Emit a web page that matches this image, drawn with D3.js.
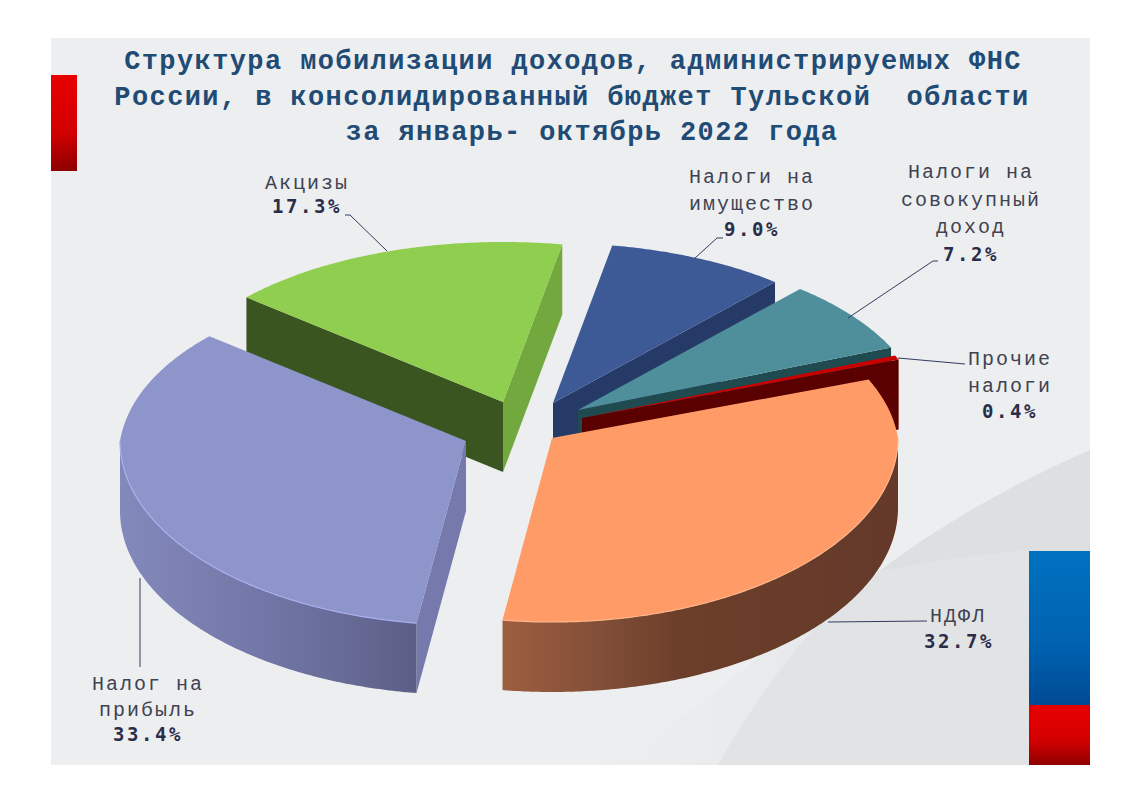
<!DOCTYPE html>
<html>
<head>
<meta charset="utf-8">
<script src="https://cdn.jsdelivr.net/npm/d3@7"></script>
<style>
  html, body { margin: 0; padding: 0; background: #fff; }
  svg { display: block; }
</style>
</head>
<body>
<svg width="1122" height="793"></svg>
<script>
// values
const categories = ["НДФЛ", "Налог на прибыль", "Акцизы", "Налоги на имущество", "Налоги на совокупный доход", "Прочие налоги"];
const shares = [32.7, 33.4, 17.3, 9.0, 7.2, 0.4];
const labelLines = [["НДФЛ"], ["Налог на", "прибыль"], ["Акцизы"], ["Налоги на", "имущество"], ["Налоги на", "совокупный", "доход"], ["Прочие", "налоги"]];
const titleLines = [
  "Структура мобилизации доходов, администрируемых ФНС",
  "России, в консолидированный бюджет Тульской\u00a0\u00a0области",
  "за январь- октябрь 2022 года"
];
const titleX = [573, 572, 592];

// layout of the exploded pie, centre of every slice on screen
const sliceX = [552, 466, 503, 553, 578, 582];
const sliceY = [438, 441, 402, 403, 410, 418];
const topColor = ["#FF9B66", "#8E95CB", "#8FCE4E", "#3D5A96", "#4F8F9B", "#C80000"];
const wallColor = ["#67392A", "#7579AC", "#3A5520", "#263A68", "#1F4A50", "#5A0000"];
const endWallColor = ["#67392A", "#7579AC", "#72A83E", "#263A68", "#1F4A50", "#5A0000"];
const paintOrder = [3, 4, 5, 0, 2, 1];
const rx = 346, ry = 184, depth = 70;
const perspX = 0.09, perspY = 0.15;
const firstAngle = 70.5 * Math.PI / 180;

// label anchors: centre x, baseline of the first line, line step, percent baseline
const labelX = [958, 148, 307, 752, 971, 1010];
const labelY = [622, 690, 189, 183, 178, 365];
const lineStep = [0, 26, 0, 27, 27.5, 27];
const pctY = [648, 741, 213, 236, 261, 418];
const pctX = [959, 148, 307, 752, 971, 1010];
const leaders = [
  [[828, 622], [927, 621]],
  [[140, 578], [140, 667]],
  [[387, 251], [350, 215], [345, 215]],
  [[695, 258], [717, 238], [723, 238]],
  [[848, 318], [933, 261], [938, 261]],
  [[898, 358], [965, 364]]
];

const svg = d3.select("svg");
const defs = svg.append("defs");

function vGrad(id, stops) {
  const g = defs.append("linearGradient").attr("id", id)
    .attr("x1", 0).attr("y1", 0).attr("x2", 0).attr("y2", 1);
  stops.forEach(s => g.append("stop").attr("offset", s[0]).attr("stop-color", s[1]));
}
function hGrad(id, x1, x2, stops) {
  const g = defs.append("linearGradient").attr("id", id)
    .attr("gradientUnits", "userSpaceOnUse")
    .attr("x1", x1).attr("y1", 0).attr("x2", x2).attr("y2", 0);
  stops.forEach(s => g.append("stop").attr("offset", s[0]).attr("stop-color", s[1]));
}
vGrad("redBar", [[0, "#E80000"], [0.6, "#D20000"], [1, "#8E0000"]]);
vGrad("blueBar", [[0, "#0072C0"], [0.6, "#0062B0"], [1, "#004A94"]]);
hGrad("rim0", 502, 896, [[0, "#9E5E3E"], [0.22, "#85513A"], [0.45, "#6C3F2A"], [1, "#65392A"]]);
hGrad("rim1", 119, 416, [[0, "#8489BC"], [0.5, "#7276A6"], [1, "#5B5F86"]]);
hGrad("fade", 600, 850, [[0, "#ECEEF0"], [1, "#E7E8EA"]]);

// background panel and decoration
svg.append("rect").attr("x", 51).attr("y", 38).attr("width", 1039).attr("height", 727).attr("fill", "#ECEEF0");
svg.append("path").attr("d", "M1090,450 C1010,485 940,525 878,572 L1029,551 L1090,551 Z").attr("fill", "#DEDFE1");
svg.append("path").attr("d", "M878,572 C955,558 990,553 1029,551 L1029,765 L600,765 C700,720 790,620 878,572 Z").attr("fill", "url(#fade)");
svg.append("path").attr("d", "M878,572 C820,610 760,690 718,765 L1029,765 L1029,551 C990,553 930,560 878,572 Z").attr("fill", "#E2E3E5");
svg.append("rect").attr("x", 51).attr("y", 75).attr("width", 26).attr("height", 96).attr("fill", "url(#redBar)");
svg.append("rect").attr("x", 1029).attr("y", 551).attr("width", 61).attr("height", 154).attr("fill", "url(#blueBar)");
svg.append("rect").attr("x", 1029).attr("y", 705).attr("width", 61).attr("height", 60).attr("fill", "url(#redBar)");

// title
svg.append("g").selectAll("text").data(titleLines).join("text")
  .attr("x", (d, i) => titleX[i])
  .attr("y", (d, i) => 69 + i * 35.5)
  .attr("text-anchor", "middle")
  .attr("font-family", "'Liberation Mono', monospace")
  .attr("font-weight", "bold")
  .attr("font-size", 27)
  .attr("letter-spacing", 1.4)
  .attr("fill", "#1F4B74")
  .text(d => d);

// angles come from the pie layout, clockwise from the top
const pie = d3.pie().sort(null).startAngle(firstAngle).endAngle(firstAngle + 2 * Math.PI);
const slices = pie(shares);
const line = d3.line();

// the far half of the pie is foreshortened
function pt(i, a, z) {
  const c = Math.cos(a);
  const kx = c > 0 ? 1 / (1 + perspX * c) : 1;
  const ky = c > 0 ? 1 / (1 + perspY * c) : 1;
  return [sliceX[i] + kx * rx * Math.sin(a), sliceY[i] - ky * ry * c + z];
}
function arcPts(i, a0, a1, z) {
  return d3.range(a0, a1, 0.01).concat([a1]).map(a => pt(i, a, z));
}

const pieG = svg.append("g");
paintOrder.forEach(i => {
  const s = slices[i];
  const g = pieG.append("g").attr("class", "slice");
  const apex = [sliceX[i], sliceY[i]];
  const low = [apex[0], apex[1] + depth];

  // cut walls, only those that face the viewer
  if (Math.sin(s.startAngle) < 0) {
    const p = pt(i, s.startAngle, 0);
    g.append("path")
      .attr("d", line([apex, p, [p[0], p[1] + depth], low]) + "Z")
      .attr("fill", wallColor[i]);
  }
  if (Math.sin(s.endAngle) > 0) {
    const p = pt(i, s.endAngle, 0);
    g.append("path")
      .attr("d", line([apex, p, [p[0], p[1] + depth], low]) + "Z")
      .attr("fill", endWallColor[i]);
  }

  // outer rim, front half only
  const a0 = Math.max(s.startAngle, Math.PI / 2);
  const a1 = Math.min(s.endAngle, 3 * Math.PI / 2);
  if (a1 > a0) {
    const upper = arcPts(i, a0, a1, 0);
    const lower = arcPts(i, a0, a1, depth).reverse();
    g.append("path")
      .attr("d", line(upper.concat(lower)) + "Z")
      .attr("fill", i < 2 ? "url(#rim" + i + ")" : wallColor[i]);
  }

  // top face
  g.append("path")
    .attr("d", line([apex].concat(arcPts(i, s.startAngle, s.endAngle, 0))) + "Z")
    .attr("fill", topColor[i]);

  // light edge along the front of the top face
  if (a1 > a0 && i < 2) {
    g.append("path")
      .attr("d", line(arcPts(i, a0, a1, 0)))
      .attr("fill", "none")
      .attr("stroke", i == 1 ? "#A9AFEE" : "#FFB48A")
      .attr("stroke-width", 1.2);
  }
});

// leader lines
svg.append("g").selectAll("path").data(leaders).join("path")
  .attr("d", d => line(d))
  .attr("fill", "none")
  .attr("stroke", "#2F3D5E")
  .attr("stroke-width", 1);

// data labels
const labels = svg.append("g");
categories.forEach((c, i) => {
  labels.append("g").attr("class", "label").selectAll("text").data(labelLines[i]).join("text")
    .attr("x", labelX[i])
    .attr("y", (d, j) => labelY[i] + j * lineStep[i])
    .attr("text-anchor", "middle")
    .attr("font-family", "'Liberation Mono', monospace")
    .attr("font-size", 20)
    .attr("letter-spacing", 2)
    .attr("fill", "#3F4352")
    .text(d => d);
  labels.append("text")
    .attr("x", pctX[i])
    .attr("y", pctY[i])
    .attr("text-anchor", "middle")
    .attr("font-family", "'DejaVu Sans Mono', monospace")
    .attr("font-weight", "bold")
    .attr("font-size", 19)
    .attr("letter-spacing", 2.6)
    .attr("fill", "#2A2D4A")
    .text(d3.format(".1f")(shares[i]) + "%");
});
</script>
</body>
</html>
